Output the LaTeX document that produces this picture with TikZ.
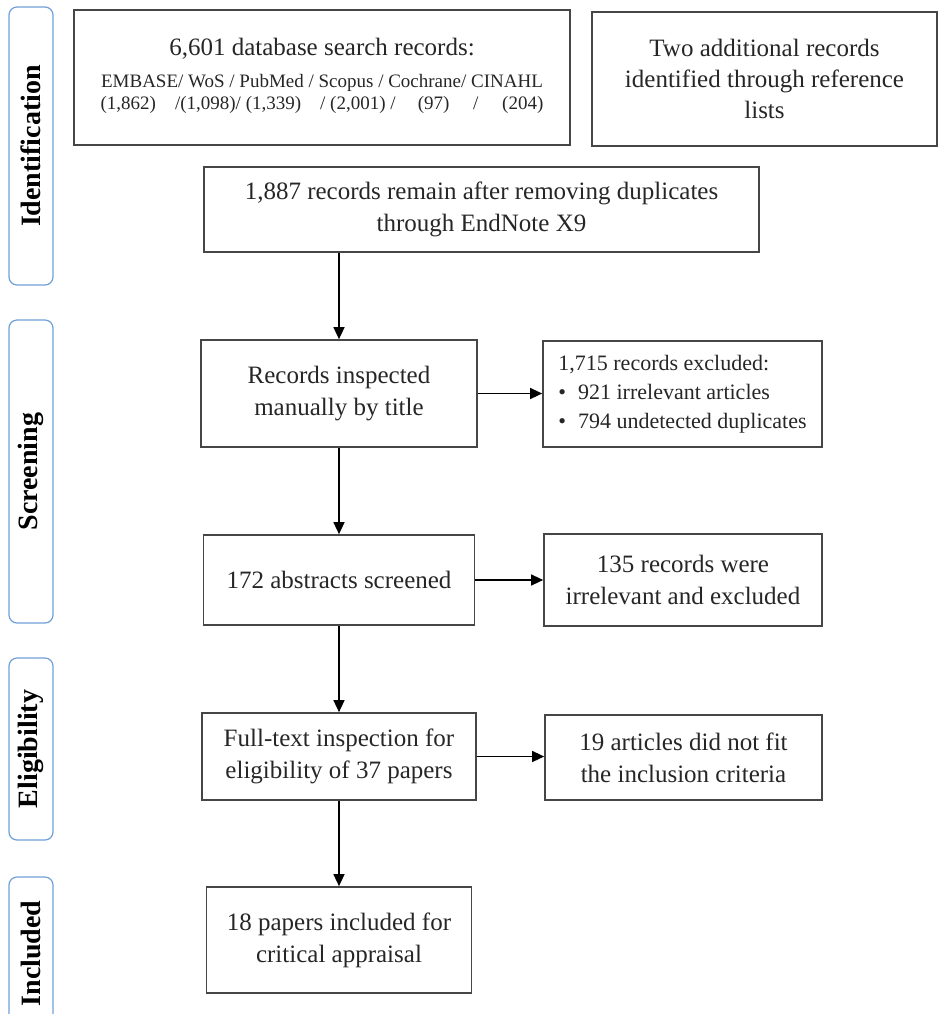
\documentclass[tikz,border=0pt]{standalone}
\usepackage{fontspec}
\setmainfont{Liberation Serif}
\usepackage{tikz}
\usetikzlibrary{arrows.meta}
\definecolor{phaseblue}{RGB}{110,160,215}
\definecolor{boxgray}{RGB}{70,70,70}

\begin{document}
\begin{tikzpicture}[x=0.5pt,y=-0.5pt,
    box/.style={draw=boxgray, line width=0.85pt, align=center, inner sep=2pt,
                font=\fontsize{12.5}{16}\selectfont, text=black!85},
    phase/.style={draw=phaseblue, line width=0.6pt, rounded corners=4pt, rotate=90,
                  minimum height=22pt, inner sep=0pt, font=\fontsize{14}{16}\bfseries\selectfont},
    arr/.style={draw=black, line width=0.7pt, -{Triangle[length=6pt,width=5.5pt]}}]
                    \clip (0,0) rectangle (940,1014);
                    % phase labels on the left
                    \node [phase, minimum width=139pt] (identification) at (31,146) {Identification};
                    \node [phase, minimum width=151.5pt] (screening) at (31,471.5) {Screening};
                    \node [phase, minimum width=91pt] (eligibility) at (31,749) {Eligibility};
                    \node [phase, minimum width=76.5pt] (included) at (31,953.5) {Included};
                    % identification
                    \node [box, minimum width=248pt, minimum height=67.5pt] (database) at (322,77.5)
                        {6,601 database search records:\\
                         {\fontsize{9.5}{11}\selectfont
                          \begin{tabular}[t]{@{}c@{}}
                          EMBASE/ WoS / PubMed / Scopus / Cochrane/ CINAHL\\
                          (1,862)\quad/(1,098)/ (1,339)\quad/ (2,001) /\quad\,(97)\quad\ /\quad\ (204)
                          \end{tabular}}};
                    \node [box, minimum width=172.5pt, minimum height=67pt,
                           font=\fontsize{12.5}{15.5}\selectfont] (reference) at (764.5,79)
                        {Two additional records\\identified through reference\\lists};
                    \node [box, minimum width=277.5pt, minimum height=42.5pt] (duplicates) at (481.5,209.5)
                        {1,887 records remain after removing duplicates\\through EndNote X9};
                    % screening
                    \node [box, minimum width=139.5pt, minimum height=53pt, align=left,
                           font=\fontsize{11}{14.5}\selectfont] (titleout) at (682.5,394)
                        {1,715 records excluded:\\
                         \textbullet\hspace{6pt}921 irrelevant articles\\
                         \textbullet\hspace{6pt}794 undetected duplicates};
                    \node [box, minimum width=138pt, minimum height=53.5pt] (title) at (339,393.5)
                        {Records inspected\\manually by title};
                    \node [box, minimum width=135.5pt, minimum height=45pt] (abstracts) at (339,580)
                        {172 abstracts screened};
                    \node [box, minimum width=139pt, minimum height=46pt] (abstractsout) at (683,580)
                        {135 records were\\irrelevant and excluded};
                    % eligibility
                    \node [box, minimum width=137pt, minimum height=43.5pt] (fulltext) at (339,756.5)
                        {Full-text inspection for\\eligibility of 37 papers};
                    \node [box, minimum width=138.5pt, minimum height=42.5pt] (fulltextout) at (683.5,757.5)
                        {19 articles did not fit\\the inclusion criteria};
                    % included
                    \node [box, minimum width=132.5pt, minimum height=53pt] (final) at (339,940)
                        {18 papers included for\\critical appraisal};
                    % arrows
                    \draw [arr] (title.north |- duplicates.south) -- (title.north);
                    \draw [arr] (title.south) -- (abstracts.north);
                    \draw [arr] (abstracts.south) -- (fulltext.north);
                    \draw [arr] (fulltext.south) -- (final.north);
                    \draw [arr] (title.east) -- (title.east -| titleout.west);
                    \draw [arr] (abstracts.east) -- (abstracts.east -| abstractsout.west);
                    \draw [arr] (fulltext.east) -- (fulltext.east -| fulltextout.west);
                \end{tikzpicture}
\end{document}
